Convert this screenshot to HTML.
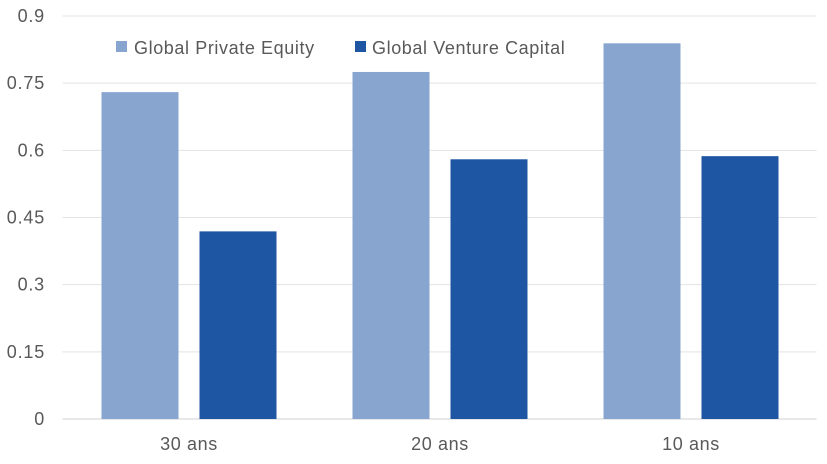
<!DOCTYPE html>
<html><head><meta charset="utf-8"><style>
html,body{margin:0;padding:0;background:#fff;}
svg{display:block;font-family:"Liberation Sans",sans-serif;}
</style></head><body>
<svg id="chart" width="827" height="464">
<g id="grid"></g>
<g id="bars"></g>
<g id="yticks"></g>
<g id="xticks"></g>
<g>
 <g>
  <rect x="116" y="41" width="11" height="11" fill="#88a5d0"/>
  <text x="134" y="54" font-size="18" letter-spacing="0.6" fill="#595959">Global Private Equity</text>
 </g>
 <g>
  <rect x="355" y="41" width="11" height="11" fill="#1f56a3"/>
  <text x="372" y="54" font-size="18" letter-spacing="0.6" fill="#595959">Global Venture Capital</text>
 </g>
</g>
</svg>
<script>
const categories = ["30 ans", "20 ans", "10 ans"];
const privateEquity = [0.73, 0.775, 0.839];
const ventureCapital = [0.419, 0.58, 0.587];
const yTicks = [0, 0.15, 0.3, 0.45, 0.6, 0.75, 0.9];
const yTickLabels = ["0", "0.15", "0.3", "0.45", "0.6", "0.75", "0.9"];

const NS = "http://www.w3.org/2000/svg";
const x0 = 63.5, x1 = 816.5, yBase = 419, yTop = 16, yMax = 0.9;
const band = (x1 - x0) / categories.length;
function yScale(v){ return yBase - v / yMax * (yBase - yTop); }
function xCenter(i){ return x0 + band * (i + 0.5); }
function mk(tag, attrs, parent){ const e = document.createElementNS(NS, tag); for (const k in attrs) e.setAttribute(k, attrs[k]); parent.appendChild(e); return e; }

const grid = document.getElementById('grid');
const yt = document.getElementById('yticks');
yTicks.forEach((t, i) => {
  const y = yScale(t);
  const l = mk('line', {x1: x0 - 1, x2: x1, y1: y, y2: y, stroke: i === 0 ? '#d0d0d0' : '#e3e3e3', 'stroke-width': 1}, grid);
  
  
  const tx = mk('text', {x: 45, y: y + 6, 'text-anchor': 'end', 'font-size': 18, 'letter-spacing': 0.8, fill: '#595959'}, yt);
  tx.textContent = yTickLabels[i];
  
  
});
const bars = document.getElementById('bars');
const xt = document.getElementById('xticks');
const bw = 77, gap = 21;
categories.forEach((c, i) => {
  const cx = xCenter(i);
  const pe = mk('rect', {x: cx - gap/2 - bw, y: yScale(privateEquity[i]), width: bw, height: yBase - yScale(privateEquity[i]), fill: '#88a5d0'}, bars);
  
  
  const vc = mk('rect', {x: cx + gap/2, y: yScale(ventureCapital[i]), width: bw, height: yBase - yScale(ventureCapital[i]), fill: '#1f56a3'}, bars);
  
  
  const tx = mk('text', {x: cx, y: 450, 'text-anchor': 'middle', 'font-size': 18, 'letter-spacing': 0.6, fill: '#595959'}, xt);
  tx.textContent = c;
  
  
});
</script>
</body></html>
